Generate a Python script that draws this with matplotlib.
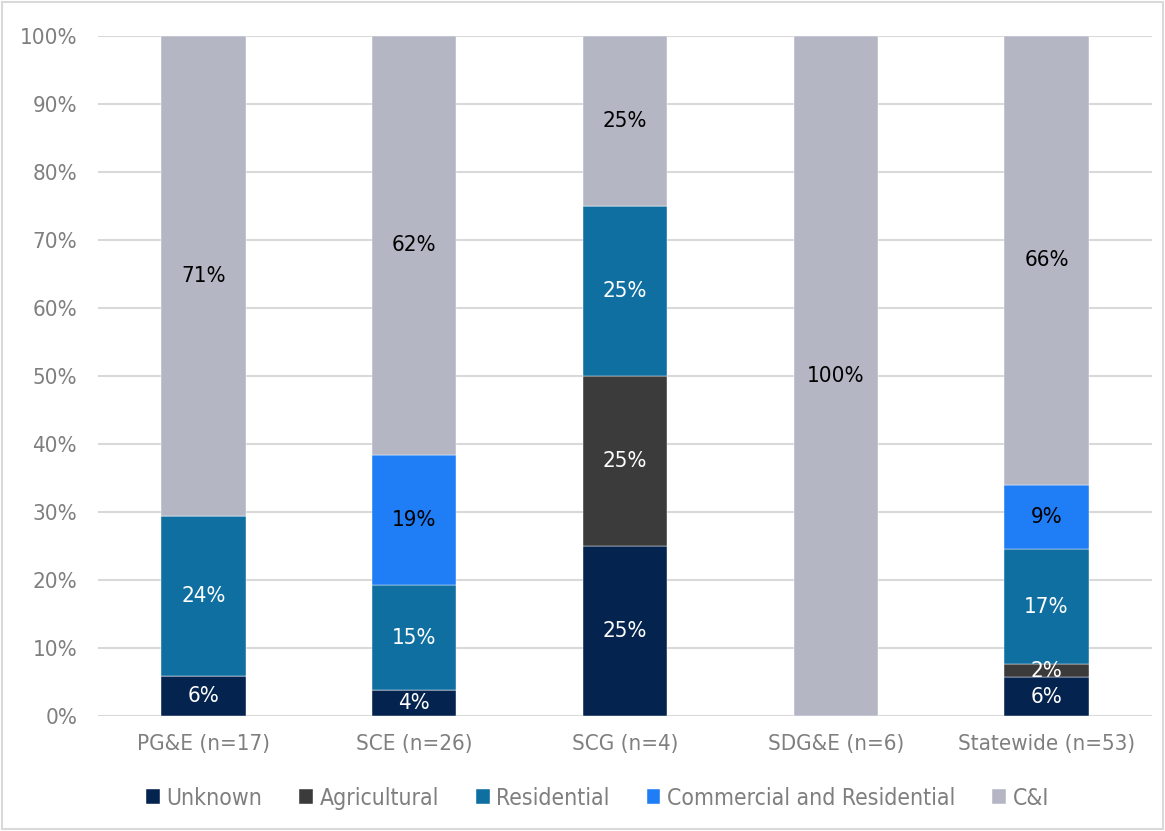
import matplotlib.pyplot as plt
import numpy as np
from matplotlib.patches import Rectangle

categories = ["PG&E (n=17)", "SCE (n=26)", "SCG (n=4)", "SDG&E (n=6)", "Statewide (n=53)"]
series_names = ["Unknown", "Agricultural", "Residential", "Commercial and Residential", "C&I"]

unknown = [5.9, 3.8, 25.0, 0.0, 5.7]
agricultural = [0.0, 0.0, 25.0, 0.0, 1.9]
residential = [23.5, 15.4, 25.0, 0.0, 17.0]
comm_res = [0.0, 19.2, 0.0, 0.0, 9.4]
c_and_i = [70.6, 61.6, 25.0, 100.0, 66.0]

series = [unknown, agricultural, residential, comm_res, c_and_i]
colors = ["#04244f", "#3b3b3b", "#0f6fa1", "#1f7ef6", "#b4b6c4"]
label_colors = ["white", "white", "white", "black", "black"]

plt.rcParams["font.family"] = ["DejaVu Sans"]
plt.rcParams["font.stretch"] = "condensed"

fig = plt.figure(figsize=(11.65, 8.31), dpi=100)
ax = fig.add_axes([0.0841, 0.1384, 0.9047, 0.8183])

x = np.arange(len(categories))
bottom = np.zeros(len(categories))
for name, vals, color, lc in zip(series_names, series, colors, label_colors):
    vals = np.array(vals)
    ax.bar(x, vals, bottom=bottom, width=0.4, color=color, label=name,
           edgecolor="#ffffff", linewidth=0.3, zorder=3)
    for xi, b, v in zip(x, bottom, vals):
        if v > 0:
            ax.text(xi, b + v / 2, f"{v:.0f}%", ha="center", va="center",
                    color=lc, fontsize=16, zorder=4)
    bottom += vals

ax.set_xlim(-0.5, len(categories) - 0.5)
ax.set_ylim(0, 100)
ax.set_yticks(np.arange(0, 101, 10))
ax.set_yticklabels([f"{t}%" for t in range(0, 101, 10)])
ax.set_xticks(x)
ax.set_xticklabels(categories)
ax.tick_params(axis="both", length=0, labelsize=16, labelcolor="#7f7f7f")
ax.tick_params(axis="x", pad=13)
ax.tick_params(axis="y", pad=15)
ax.grid(axis="y", color="#d9d9d9", linewidth=1.5, zorder=0)
for s in ax.spines.values():
    s.set_visible(False)

ax.legend(loc="center", bbox_to_anchor=(0.474, -0.121), ncol=5, frameon=False,
          fontsize=16.5, labelcolor="#7f7f7f", handlelength=0.6, handleheight=0.6,
          handletextpad=0.3, columnspacing=1.6)

fig.patches.append(Rectangle((0.002, 0.002), 0.996, 0.996, transform=fig.transFigure,
                             fill=False, edgecolor="#d9d9d9", linewidth=1.5))

fig.savefig("out.png", dpi=100)
